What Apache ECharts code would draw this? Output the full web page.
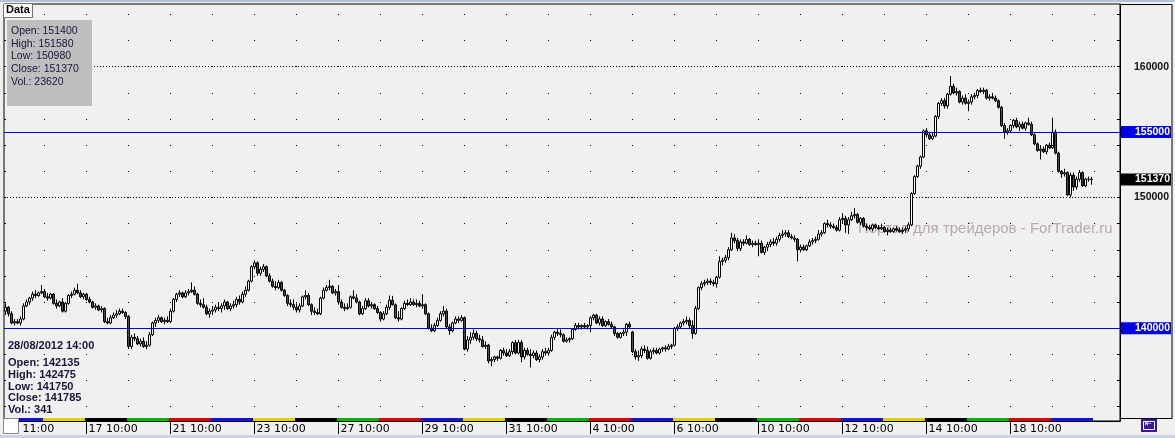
<!DOCTYPE html>
<html><head><meta charset="utf-8">
<script src="https://cdn.jsdelivr.net/npm/echarts@6.0.0/dist/echarts.min.js"></script>
<style>html,body{margin:0;padding:0;background:#f0f0f0;}#chart{width:1175px;height:438px;}</style>
</head><body><div id="chart"></div>
<script>
// ---- categories: hourly bars per trading day ----
const tradingDays = ['15/08','16/08','17/08','20/08','21/08','22/08','23/08','24/08','27/08','28/08','29/08','30/08','31/08',
  '03/09','04/09','05/09','06/09','07/09','10/09','11/09','12/09','13/09','14/09','17/09','18/09','19/09'];
const sessionHours = ['10:00','11:00','12:00','13:00','14:00','15:00','16:00','17:00','18:00','19:00','20:00','21:00','22:00','23:00'];
const firstBarHour = '11:00';
const emptySlotsRight = 9;
const year = 2012;

// ---- tick labels on the time axis ----
const tickLabels = [['15/08 11:00','11:00'],['17/08 10:00','17 10:00'],['21/08 10:00','21 10:00'],['23/08 10:00','23 10:00'],
  ['27/08 10:00','27 10:00'],['29/08 10:00','29 10:00'],['31/08 10:00','31 10:00'],['04/09 10:00','4 10:00'],
  ['06/09 10:00','6 10:00'],['10/09 10:00','10 10:00'],['12/09 10:00','12 10:00'],['14/09 10:00','14 10:00'],['18/09 10:00','18 10:00']];

// ---- price axis ----
const priceMin = 132900, priceMax = 164800;
const priceTicks = [134000,136000,138000,140000,142000,144000,146000,148000,150000,152000,154000,156000,158000,160000,162000,164000];
const labelledTicks = [150000,160000];
const levelLines = [140000,155000];

// ---- bars: [open, high, low, close] ----
const ohlc = [
[141300,141900,141000,141600],[141600,141700,140900,141100],[141100,141300,140300,140400],[140400,140700,140200,140500],
[140500,140700,140300,140400],[140400,140900,140200,140700],[140700,141900,140600,141700],[141700,142200,141600,142000],
[142000,142400,141800,142300],[142300,142800,142100,142600],[142600,142900,142300,142500],[142500,142800,142400,142700],
[142700,143300,142600,142800],[142800,143000,142300,142400],[142400,142700,142100,142300],[142300,142700,142200,142600],
[142600,142700,141800,141900],[141900,142200,141500,141700],[141700,142100,141600,142000],[142000,142300,141200,141300],
[141300,142000,141200,141900],[141900,142600,141800,142500],[142500,142800,142300,142600],[142600,143100,142500,142900],
[142900,143400,142600,142700],[142700,142900,142300,142400],[142400,142700,142200,142600],[142600,142700,142100,142200],
[142200,142400,141900,142000],[142000,142100,141500,141600],[141600,141900,141400,141700],[141700,141800,141300,141400],
[141400,141700,141200,141500],[141500,141600,140400,140500],[140500,140800,140300,140400],[140400,141000,140300,140800],
[140800,141200,140700,141000],[141000,141400,140800,141100],[141100,141500,141000,141300],[141300,141500,141100,141200],
[141200,141300,140700,140900],[140900,141000,138400,138600],[138600,139500,138400,139300],[139300,139600,139000,139200],
[139200,139400,138700,138800],[138800,139200,138600,139000],[139000,139300,138500,138600],[138600,139000,138400,138700],
[138700,139700,138600,139500],[139500,140500,139400,140400],[140400,140800,140100,140600],[140600,141000,140400,140800],
[140800,140900,140400,140500],[140500,140800,140300,140600],[140600,140900,140400,140500],[140500,141500,140400,141300],
[141300,142300,141200,142200],[142200,142700,142000,142600],[142600,142900,142400,142700],[142700,142800,142300,142400],
[142400,142900,142300,142700],[142700,143000,142500,142800],[142800,143500,142700,142900],[142900,143200,142500,142600],
[142600,142700,141800,141900],[141900,142200,141600,141800],[141800,142300,141500,141600],[141600,141800,141000,141100],
[141100,141500,140800,141300],[141300,141700,141000,141400],[141400,141800,141200,141600],[141600,142000,141300,141500],
[141500,141900,141200,141700],[141700,142200,141400,142000],[142000,142100,141400,141500],[141500,141900,141300,141700],
[141700,142100,141500,141800],[141800,142400,141600,142200],[142200,142500,141800,142000],[142000,142800,141900,142600],
[142600,143200,142400,142900],[142900,143700,142800,143600],[143600,144800,143500,144700],[144700,145200,144500,145000],
[145000,145100,144000,144200],[144200,144700,144000,144500],[144500,144900,144300,144700],[144700,144800,143900,144000],
[144000,144200,143500,143600],[143600,143800,143100,143200],[143200,143600,142900,143100],[143100,143700,143000,143500],
[143500,143600,142800,142900],[142900,143000,142400,142500],[142500,142600,141700,141900],[141900,142200,141600,141800],
[141800,142200,141400,141600],[141600,141900,141200,141400],[141400,141900,141200,141700],[141700,142500,141600,142400],
[142400,142900,142200,142500],[142500,142700,141700,141800],[141800,141900,141000,141300],[141300,141600,141000,141200],
[141200,141500,141000,141100],[141100,142400,141000,142300],[142300,143100,142200,142900],[142900,143300,142800,143100],
[143100,143700,142900,143200],[143200,143300,142600,142700],[142700,143000,142500,142800],[142800,143300,141800,142000],
[142000,142200,141500,141600],[141600,141900,141300,141500],[141500,141900,141400,141600],[141600,142500,141500,142400],
[142400,142900,142200,142300],[142300,142600,141900,142000],[142000,142100,141000,141100],[141100,141700,141000,141500],
[141500,142300,141400,142100],[142100,142300,141600,141700],[141700,142000,141500,141800],[141800,141900,141400,141500],
[141500,141700,141100,141200],[141200,141300,140500,140700],[140700,141300,140600,141100],[141100,141800,141000,141600],
[141600,142500,141400,142150],[142135,142475,141750,141785],[141785,141900,140700,140800],[140800,141300,140500,140700],
[140700,141600,140600,141500],[141500,142100,141400,141900],[141900,142200,141700,141800],[141800,142300,141700,142000],
[142000,142200,141700,141800],[141800,142200,141600,141900],[141900,142100,141600,141700],[141700,142600,141500,141800],
[141800,141900,141000,141100],[141100,141200,139900,140000],[140000,140300,139700,139800],[139800,140400,139700,140200],
[140200,140800,140100,140600],[140600,141300,140500,141100],[141100,141700,140900,141300],[141300,141500,140000,140100],
[140100,140300,139500,139800],[139800,140500,139700,140400],[140400,140900,140300,140700],[140700,140900,140400,140600],
[140600,141000,140500,140800],[140800,140900,138300,138400],[138400,139400,138200,139100],[139100,139700,138800,139300],
[139300,139900,139100,139600],[139600,139800,139000,139200],[139200,139500,138900,139100],[139100,139400,138500,138600],
[138600,139000,138400,138700],[138700,138800,137300,137500],[137500,137800,137100,137600],[137600,137900,137400,137800],
[137800,137900,137500,137700],[137700,138400,137600,138300],[138300,138500,137900,138100],[138100,138400,137800,137900],
[137900,138400,137800,138200],[138200,139000,138000,138900],[138900,139100,138000,138100],[138100,139100,138000,138900],
[138900,139100,137400,137800],[137800,138500,137600,138300],[138300,138500,137900,138000],[138000,138400,137000,137900],
[137900,138300,137700,138100],[138100,138300,137500,137600],[137600,138000,137400,137800],[137800,138400,137600,138200],
[138200,138500,137900,138100],[138100,138500,137900,138300],[138300,139500,138200,139300],[139300,139800,139100,139700],
[139700,140000,139400,139600],[139600,139900,139300,139500],[139500,139600,138900,139000],[139000,139300,138900,139100],
[139100,139300,138900,139200],[139200,140000,139100,139900],[139900,140400,139800,140200],[140200,140400,139900,140100],
[140100,140300,139900,140200],[140200,140400,140000,140100],[140100,140300,139900,140200],[140200,140900,139700,140800],
[140800,141100,140600,141000],[141000,141100,140300,140400],[140400,140900,140200,140700],[140700,140900,140100,140200],
[140200,140600,140100,140500],[140500,140700,140200,140300],[140300,140500,140000,140100],[140100,140200,139400,139600],
[139600,139700,139200,139300],[139300,139700,139200,139600],[139600,139900,139400,139700],[139700,140400,139400,140300],
[140300,140500,140000,140100],[139700,139800,138100,138200],[138200,138400,137600,137800],[137800,138300,137500,137900],
[137900,138600,137700,138400],[138400,138700,138100,138300],[138300,138600,137600,137700],[137700,138400,137600,138200],
[138200,138500,138000,138300],[138300,138500,138000,138100],[138100,138500,138000,138400],[138400,138600,138200,138500],
[138500,138700,138200,138400],[138400,138800,138300,138600],[138600,138800,138400,138700],[138700,140100,138600,140000],
[140000,140300,139800,140100],[140100,140500,140000,140400],[140400,140700,140200,140500],[140500,140900,140300,140600],
[140600,140800,140000,140200],[140200,140600,139200,139600],[139600,141700,139500,141500],[141500,143200,141400,143100],
[143100,143600,142900,143400],[143400,143700,143200,143500],[143500,143800,143300,143600],[143600,143800,143300,143500],
[143500,143700,143200,143400],[143400,144000,143100,143900],[143900,145500,143800,145100],[145100,145400,144800,145200],
[145200,145600,145000,145400],[145400,146200,145200,146000],[146000,147300,145900,146900],[146900,147200,146500,146700],
[146700,146900,145900,146100],[146100,146800,145900,146600],[146600,146800,146300,146500],[146500,147100,146400,146800],
[146800,146900,146300,146400],[146400,146700,146200,146500],[146500,146700,146300,146400],[146400,146800,145500,146500],
[146500,146700,145700,145800],[145800,146300,145600,146200],[146200,146600,145900,146400],[146400,146800,146200,146600],
[146600,146900,146300,146500],[146500,147000,146300,146800],[146800,147300,146600,147100],[147100,147500,146900,147200],
[147200,147500,147000,147300],[147300,147500,146900,147000],[147000,147200,146800,146900],[146900,147100,146600,146800],
[146800,146900,145100,146000],[146000,146400,145800,146200],[146200,146400,145900,146000],[146000,146400,145900,146300],
[146300,146800,146200,146600],[146600,146900,146400,146700],[146700,147000,146500,146800],[146800,147500,146700,147200],
[147200,147500,147000,147300],[147300,148100,147200,148000],[148000,148300,147700,147900],[147900,148100,147600,147800],
[147800,148000,147600,147700],[147700,147900,147400,147500],[147500,148500,147400,148300],[148300,148800,148000,148400],
[148400,148600,147300,147900],[147900,148500,147200,148300],[148300,148900,148200,148600],[148600,149200,148400,148700],
[148700,148800,148000,148100],[148100,148500,147900,148400],[148400,148500,147700,147800],[147800,148000,147500,147700],
[147700,147900,147500,147600],[147600,148000,147400,147900],[147900,148000,147600,147700],[147700,147900,147500,147600],
[147600,148000,147500,147700],[147700,147800,147300,147400],[147400,147700,147100,147500],[147500,147700,147300,147400],
[147400,147700,147300,147600],[147600,147800,147400,147500],[147500,147700,147300,147400],[147400,147700,147200,147500],
[147500,147800,147300,147600],[147600,148100,147400,147900],[147900,150400,147800,150300],[150300,151700,150200,151600],
[151600,152500,151500,152400],[152400,153200,152200,153100],[153100,155200,153000,155100],[155100,155300,154600,154800],
[154800,155000,154400,154500],[154500,155000,154400,154700],[154700,156300,154600,156200],[156200,157300,156000,157200],
[157200,157600,157000,157400],[157400,157600,156800,157000],[157000,158000,156800,157900],[157900,159300,157800,158500],
[158500,158700,157900,158000],[158000,158400,157800,158100],[158100,158200,157200,157300],[157300,157800,157100,157600],
[157600,157900,157100,157200],[157200,157500,156600,157300],[157300,157900,157100,157700],[157700,158000,157500,157800],
[157800,158300,157600,158200],[158200,158400,158000,158100],[158100,158400,157900,158200],[158200,158300,157500,157600],
[157600,157900,157400,157700],[157700,158000,157500,157600],[157600,157800,157300,157400],[157400,157500,156800,156900],
[156900,157000,155400,155500],[155500,155700,154500,155000],[155000,155300,154800,155100],[155100,155600,155000,155500],
[155500,156000,155300,155900],[155900,156100,155300,155400],[155400,155800,155100,155600],[155600,155800,155200,155300],
[155300,155800,155100,155700],[155700,156100,155500,155600],[155600,155800,154700,154800],[154800,154900,154000,154100],
[154100,154200,153500,153600],[153600,154000,152900,153700],[153700,153900,153400,153500],[153500,154100,153300,154000],
[154000,154200,153700,153800],[153800,156100,153700,155000],[155000,155200,153300,153400],[153400,153500,151900,152000],
[152000,152100,151500,151800],[151800,152200,151600,151900],[151900,152000,150100,150200],[150200,151900,150000,151700],
[151700,151900,150500,150800],[150800,151600,150600,151400],[151400,152100,151200,151900],[151900,152000,150800,150900],
[150900,151500,150800,151400],[151400,151600,151200,151400],[151400,151580,150980,151370]
];

// ---- info panels ----
const hoveredBar = '28/08 14:00';
const hoveredTitle = '28/08/2012 14:00';
const barVolumes = [['28/08 14:00', 341], ['19/09 23:00', 23620]];
const watermarkText = 'Портал для трейдеров - ForTrader.ru';

// build categories
const categories = [];
tradingDays.forEach((d, k) => {
  sessionHours.forEach(h => {
    if (k === 0 && h < firstBarHour) return;
    categories.push(d + ' ' + h);
  });
});
const nBars = categories.length;
for (let i = 0; i < emptySlotsRight; i++) categories.push('');

const tickMap = {};
tickLabels.forEach(([c, t]) => { tickMap[c] = t; });
const showTick = (idx, val) => tickMap[val] !== undefined;

// day strip (colour by weekday)
const weekdayColors = {1: '#00b400', 2: '#e00000', 3: '#1414d8', 4: '#e0d200', 5: '#000000'};
const dayStrip = [];
tradingDays.forEach(d => {
  const idxs = categories.map((c, i) => c.startsWith(d + ' ') ? i : -1).filter(i => i >= 0);
  const [dd, mm] = d.split('/').map(Number);
  const wd = new Date(year, mm - 1, dd).getDay();
  dayStrip.push([idxs[0], idxs[idxs.length - 1], wd]);
});

const candleData = ohlc.map(([o, h, l, c]) => [o, c, l, h]);
const lastBar = ohlc[ohlc.length - 1];
const hovered = ohlc[categories.indexOf(hoveredBar)];
const volOf = c => barVolumes.find(v => v[0] === c)[1];
const lastCat = categories[nBars - 1];

const boxLabel = (bg) => ({
  show: true, position: 'end', distance: 51, align: 'right',
  formatter: p => String(p.value), backgroundColor: bg, color: '#ffffff',
  fontFamily: 'Liberation Sans', fontWeight: 'bold', fontSize: 10.5, lineHeight: 11,
  width: 47, padding: [1, 1, 0, 2]
});

const markLineData = [];
priceTicks.forEach(v => markLineData.push({yAxis: v, lineStyle: {color: '#000', width: 1, type: [1, 41], dashOffset: 2}}));
labelledTicks.forEach(v => markLineData.push({yAxis: v, lineStyle: {color: '#000', width: 1, type: [1, 2]}}));
levelLines.forEach(v => markLineData.push({yAxis: v, lineStyle: {color: '#0000c8', width: 1, type: 'solid'}, label: boxLabel('#0000e6')}));
markLineData.push({yAxis: lastBar[3], lineStyle: {color: 'rgba(0,0,0,0)', width: 1, type: 'solid'}, label: boxLabel('#000000')});

const chart = echarts.init(document.getElementById('chart'), null, {renderer: 'canvas'});
chart.setOption({
  animation: false,
  backgroundColor: '#f0f0f0',
  grid: {left: 4, right: 55, top: 4, bottom: 17, show: true, backgroundColor: '#f0f0f0', borderColor: '#000', borderWidth: 1},
  xAxis: {
    type: 'category', data: categories, boundaryGap: true,
    axisLine: {show: true, lineStyle: {color: '#000', width: 1}},
    axisTick: {show: true, alignWithLabel: true, interval: showTick, length: 13, lineStyle: {color: '#000'}},
    axisLabel: {
      interval: showTick, align: 'left', margin: 3, color: '#000', fontFamily: 'DejaVu Sans', fontSize: 11,
      formatter: (val, idx) => idx === 0 ? '{f|' + tickMap[val] + '}' : '{n|' + tickMap[val] + '}',
      rich: {
        f: {padding: [0, 0, 0, 17], fontFamily: 'DejaVu Sans', fontSize: 11, color: '#000'},
        n: {padding: [0, 0, 0, 2], fontFamily: 'DejaVu Sans', fontSize: 11, color: '#000'}
      }
    },
    splitLine: {show: false}
  },
  yAxis: [{
    type: 'value', position: 'right', min: priceMin, max: priceMax, scale: true,
    axisLine: {show: true, lineStyle: {color: '#000'}},
    axisTick: {show: true, inside: true, length: 3, customValues: priceTicks, lineStyle: {color: '#000'}},
    axisLabel: {show: true, customValues: labelledTicks, align: 'right', margin: 49, formatter: v => String(v),
      fontFamily: 'Liberation Sans', fontWeight: 'bold', fontSize: 10.5, color: '#111'},
    splitLine: {show: false}
  }, {
    type: 'value', position: 'left', min: priceMin, max: priceMax, scale: true,
    axisLine: {show: false},
    axisTick: {show: true, inside: true, length: 2, customValues: priceTicks, lineStyle: {color: '#000'}},
    axisLabel: {show: false}, splitLine: {show: false}
  }],
  series: [{
    type: 'candlestick', data: candleData, barWidth: 3, z: 2,
    itemStyle: {color: '#ffffff', color0: '#4a4a4a', borderColor: '#000', borderColor0: '#000', borderColorDoji: '#000', borderWidth: 1},
    markLine: {symbol: ['none', 'none'], silent: true, animation: false, label: {show: false}, emphasis: {disabled: true}, data: markLineData}
  }, {
    type: 'custom', z: 4, silent: true, data: dayStrip, clip: false,
    renderItem: (params, api) => {
      const cs = params.coordSys;
      const w = api.size([1, 0])[0];
      const x0 = api.coord([api.value(0), priceMin])[0] - w / 2;
      const x1 = api.coord([api.value(1), priceMin])[0] + w / 2;
      return {type: 'rect', shape: {x: x0, y: cs.y + cs.height - 3, width: x1 - x0, height: 3}, style: {fill: weekdayColors[api.value(2)]}};
    }
  }],
  graphic: {elements: [
    {type: 'text', z: 1, left: 858, top: 221, style: {text: watermarkText, fill: 'rgba(150,120,120,0.6)', font: '15px "Liberation Sans"'}},
    {type: 'rect', z: 50, shape: {x: 0, y: 0, width: 1175, height: 2}, style: {fill: '#b2c2d6'}},
    {type: 'rect', z: 50, shape: {x: 0, y: 435, width: 1175, height: 3}, style: {fill: '#c6d6ea'}},
    {type: 'rect', z: 50, shape: {x: 1120.5, y: 4.5, width: 51.5, height: 414}, style: {fill: 'none', stroke: '#000', lineWidth: 1}},
    {type: 'rect', z: 50, shape: {x: 4, y: 4, width: 29, height: 13}, style: {fill: '#ffffff'}},
    {type: 'polyline', z: 51, shape: {points: [[32.5, 4], [32.5, 17.5], [4, 17.5]]}, style: {stroke: '#707070', fill: 'none', lineWidth: 1}},
    {type: 'text', z: 52, left: 6, top: 4, style: {text: 'Data', fill: '#000', font: 'bold 11px "Liberation Sans"'}},
    {type: 'rect', z: 50, shape: {x: 7, y: 20, width: 85, height: 86}, style: {fill: '#bebebe'}},
    {type: 'text', z: 52, left: 11, top: 24.5, style: {
      text: ['Open: ' + lastBar[0], 'High: ' + lastBar[1], 'Low: ' + lastBar[2], 'Close: ' + lastBar[3], 'Vol.: ' + volOf(lastCat)].join('\n'),
      fill: '#16163a', font: '10.5px "Liberation Sans"', lineHeight: 12.75}},
    {type: 'text', z: 52, left: 8, top: 340.5, style: {text: hoveredTitle, fill: '#16163a', font: 'bold 11px "Liberation Sans"'}},
    {type: 'text', z: 52, left: 8, top: 357, style: {
      text: ['Open: ' + hovered[0], 'High: ' + hovered[1], 'Low: ' + hovered[2], 'Close: ' + hovered[3], 'Vol.: ' + volOf(hoveredBar)].join('\n'),
      fill: '#16163a', font: 'bold 11px "Liberation Sans"', lineHeight: 11.8}},
    {type: 'rect', z: 53, shape: {x: 3.5, y: 418.5, width: 15, height: 15}, style: {fill: '#ffffff', stroke: '#8a8a8a', lineWidth: 1}},
    {type: 'rect', z: 53, shape: {x: 1141, y: 419, width: 16, height: 13}, style: {fill: '#3a189c'}},
    {type: 'rect', z: 54, shape: {x: 1143.5, y: 421.5, width: 11, height: 8}, style: {fill: 'none', stroke: '#ffffff', lineWidth: 1}},
    {type: 'text', z: 54, left: 1145, top: 420, style: {text: '⇤', fill: '#ffffff', font: '8px "DejaVu Sans"'}}
  ]}
});
</script></body></html>
